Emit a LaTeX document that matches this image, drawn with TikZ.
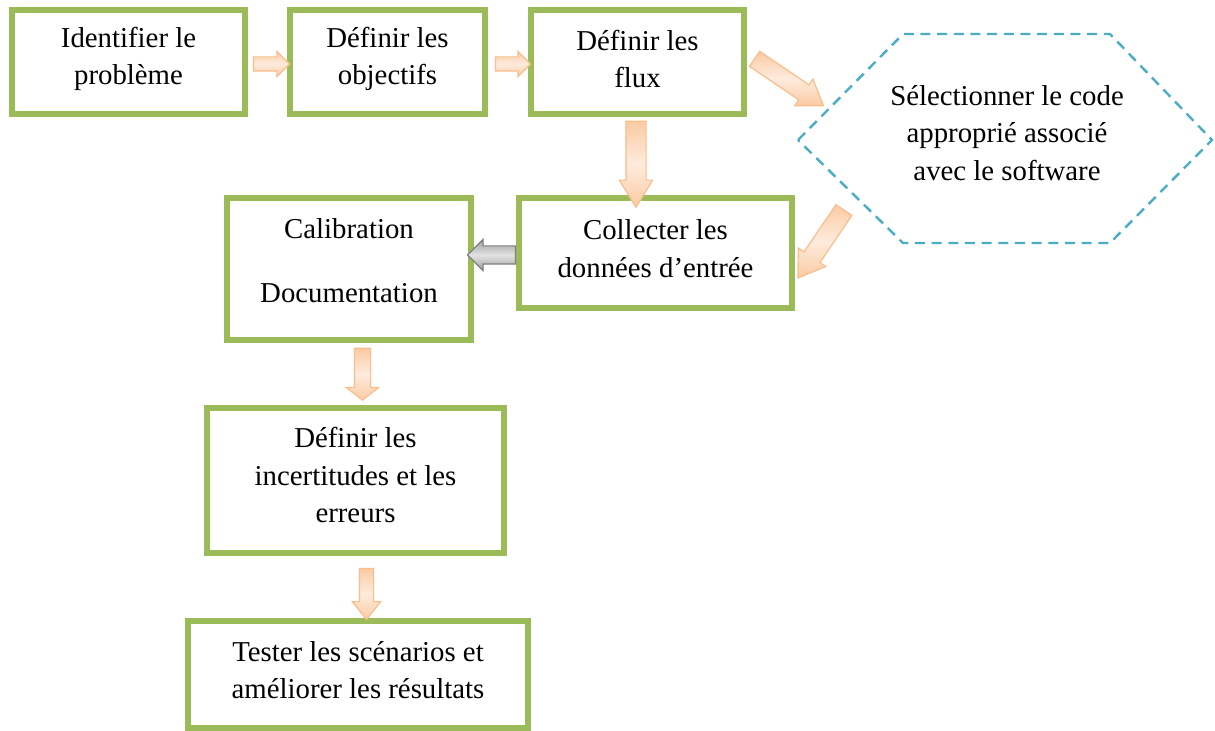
\documentclass[tikz,border=0pt]{standalone}
\usepackage{fontspec}
\setmainfont{Liberation Serif}
\usetikzlibrary{calc,shapes.arrows}
\definecolor{boxgreen}{HTML}{9BBB59}
\definecolor{hexblue}{HTML}{4BACC6}
\definecolor{peachline}{HTML}{F9BE8C}
\definecolor{peachedge}{HTML}{FBCBA3}
\definecolor{peachmid}{HTML}{FDEBDD}
\definecolor{greyline}{HTML}{7F7F7F}
\definecolor{greyedge}{HTML}{9E9E9E}
\definecolor{greymid}{HTML}{E2E2E2}
\newcommand\barrow[6]{%
  \path let \p1=($(#3)-(#2)$), \n1={atan2(\y1,\x1)}, \n2={veclen(\x1,\y1)} in
    node[#1, single arrow, rotate=\n1, minimum height=\n2, inner xsep=0pt,
      inner ysep={#4*0.375pt}, single arrow head extend={(#5-#4)*0.375pt},
      single arrow tip angle=#6, minimum width=0pt, outer sep=0pt]
    at ($(#2)!0.5!(#3)$) {};}
\begin{document}
\begin{tikzpicture}[x=0.75pt,y=-0.75pt,
  box/.style 2 args={draw=boxgreen, line width=4.5pt, rectangle,
    minimum width={#1*0.75pt}, minimum height={#2*0.75pt}, inner sep=0pt},
  txt/.style={align=center, inner sep=0pt, font=\fontsize{21.6}{28}\selectfont},
  peacharrow/.style={draw=peachline, line width=0.9pt, top color=peachedge,
    bottom color=peachedge, middle color=peachmid},
  greyarrow/.style={draw=greyline, line width=0.9pt, top color=greyedge,
    bottom color=greyedge, middle color=greymid},
  hexline/.style={draw=hexblue, line width=1.8pt, dash pattern=on 7.5pt off 5pt}]
\useasboundingbox (0,0) rectangle (1215,731);
% boxes
\node[box={233}{104}] (n1) at (128.5,62) {};
\node[box={195}{104}] (n2) at (387.5,62) {};
\node[box={213}{104}] (n3) at (637.5,62) {};
\node[box={273}{110}] (n5) at (655.5,253) {};
\node[box={244}{142}] (n6) at (349,269) {};
\node[box={297}{145}] (n7) at (355.5,480.5) {};
\node[box={340}{107}] (n8) at (358,674.5) {};
% texts
\node[txt] (t1) at ($(n1.center)+(0,-3)$) {Identifier le\\problème};
\node[txt] (t2) at ($(n2.center)+(0,-3)$) {Définir les\\objectifs};
\node[txt] (t3) at ($(n3.center)+(0,-3)$) {Définir les\\flux};
\node[txt] (t5) at ($(n5.center)+(0,-4.5)$) {Collecter les\\données d’entrée};
\node[txt] (t6) at ($(n6.center)+(0,-8)$) {Calibration\\[20pt]Documentation};
\node[txt] (t7) at ($(n7.center)+(0,-5.5)$) {Définir les\\incertitudes et les\\erreurs};
\node[txt] (t8) at ($(n8.center)+(0,-4.5)$) {Tester les scénarios et\\améliorer les résultats};
% hexagon
\coordinate (hL) at (798,140);
\coordinate (hTL) at (903,34);
\coordinate (hTR) at (1110,34);
\coordinate (hR) at (1212,140);
\coordinate (hBR) at (1110,243);
\coordinate (hBL) at (903,243);
\draw[hexline] (hL) -- (hTL) -- (hTR) -- (hR) -- (hBR) -- (hBL) -- cycle;
\node[txt] (hex) at (1007,133) {Sélectionner le code\\approprié associé\\avec le software};
% arrow end points
\coordinate (a12s) at (250,64);  \coordinate (a12e) at (286,64);
\coordinate (a23s) at (492,64);  \coordinate (a23e) at (527,64);
\coordinate (a35s) at (636,113); \coordinate (a35e) at (636,199);
\coordinate (a3hs) at (749,55);  \coordinate (a3he) at (818,102);
\coordinate (ah5s) at (848,204); \coordinate (ah5e) at (802,272);
\coordinate (a56s) at (520,255); \coordinate (a56e) at (472,255);
\coordinate (a67s) at (362.5,345); \coordinate (a67e) at (362.5,397);
\coordinate (a78s) at (366.5,564); \coordinate (a78e) at (366.5,615);
\barrow{peacharrow}{a12s}{a12e}{13}{24}{90}
\barrow{peacharrow}{a23s}{a23e}{13}{24}{90}
\barrow{peacharrow}{a35s}{a35e}{19}{32}{63}
\barrow{peacharrow}{a3hs}{a3he}{17}{31}{68}
\barrow{peacharrow}{ah5s}{ah5e}{18}{32}{67}
\barrow{greyarrow}{a56s}{a56e}{17}{30}{90}
\barrow{peacharrow}{a67s}{a67e}{15}{31}{104}
\barrow{peacharrow}{a78s}{a78e}{13}{27}{77}
\end{tikzpicture}
\end{document}
